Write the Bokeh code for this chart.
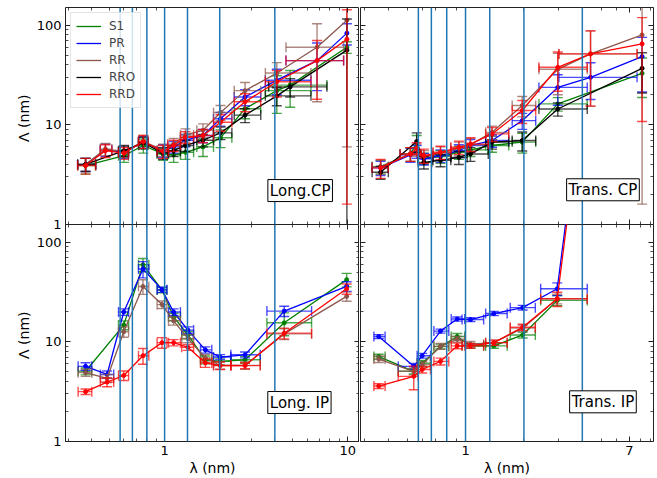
import math
from bokeh.plotting import figure
from bokeh.layouts import row, column
from bokeh.models import (Range1d, LogAxis, FixedTicker, PrintfTickFormatter, Span, Label,
                          Legend, LegendItem)
from bokeh.embed import file_html
from bokeh.resources import INLINE

FONT = "DejaVu Sans"
SERIES = ["S1", "PR", "RR", "RRO", "RRD"]
COLORS = {"S1": "#008000", "PR": "#0000ff", "RR": "#8c564b", "RRO": "#000000", "RRD": "#ff0000"}

# vertical reference lines (lambda, nm)
VLINES = [4 / 7, 2 / 3, 4 / 5, 1.0, 4 / 3, 2.0, 4.0]

# ---------------- Long. CP (top left) ----------------
LCP_X   = [0.37, 0.475, 0.60, 0.765, 0.98, 1.12, 1.30, 1.62, 2.02, 2.75, 4.1, 4.85, 6.8, 9.9]
LCP_XLO = [0.335, 0.445, 0.56, 0.72, 0.91, 1.04, 1.22, 1.50, 1.85, 2.40, 3.55, 3.7, 4.6, 9.9]
LCP_XHI = [0.42, 0.515, 0.635, 0.81, 1.05, 1.22, 1.44, 1.85, 2.33, 3.35, 6.3, 7.7, 9.5, 9.9]
LCP_Y = dict(
    S1=[3.9, None, 4.9, 6.2, 5.1, 5.0, 5.3, 6.0, 7.4, 14.5, 22, 25, None, 60],
    PR=[4.0, 5.6, 5.3, 6.7, 5.5, 6.0, 7.0, 7.8, 11.5, 19, 28, None, 44, 83],
    RR=[4.0, 5.7, 5.4, 6.8, 5.6, 6.4, 7.9, 8.8, 13.3, 22, 33, None, 60, 112],
    RRO=[4.0, None, 5.5, 6.6, 5.2, 5.5, 6.2, 7.0, 8.3, 12.5, 19.5, 24, None, 56],
    RRD=[3.9, 5.5, 5.2, 6.8, 5.4, 6.2, 7.5, 7.8, 10.6, 17, 27, None, 44, 72],
)
LCP_E = dict(
    S1=[0.7, None, 0.7, 1.0, 0.7, 0.8, 0.8, 1.2, 1.5, 3, 9, 10, None, 8],
    PR=[0.6, 0.8, 0.7, 0.9, 0.8, 0.8, 1.0, 1.2, 1.8, 3.5, 8, None, 22, 20],
    RR=[0.6, 0.8, 0.7, 1.0, 0.8, 0.9, 1.2, 1.4, 2.3, 4.5, 9, None, 43, 106],
    RRO=[0.6, None, 0.7, 0.9, 0.7, 0.7, 0.8, 1.0, 1.2, 2, 4, 5, None, 59],
    RRD=[0.7, 0.8, 0.7, 1.0, 0.8, 0.8, 1.0, 1.2, 2, 3.5, 8, None, 26, 70.4],
)

# ---------------- Trans. CP (top right) ----------------
TCP_X   = [0.365, 0.52, 0.56, 0.61, 0.743, 0.924, 1.06, 1.37, 1.96, 2.99, 4.41, 8.13]
TCP_XLO = [0.33, 0.46, 0.56, 0.57, 0.68, 0.84, 1.0, 1.27, 1.74, 2.39, 3.03, 8.13]
TCP_XHI = [0.40, 0.59, 0.56, 0.67, 0.84, 1.02, 1.31, 1.67, 2.3, 4.24, 7.66, 8.13]
TCP_Y = dict(
    S1=[3.8, 5.1, 6.5, 4.6, 4.8, 5.3, 5.6, 6.2, 6.7, 16.2, None, 32.8],
    PR=[3.7, 5.0, 5.4, 4.55, 4.9, 5.5, 6.2, 6.95, 11, 23.7, 29.9, 48.3],
    RR=[3.8, 5.1, 5.6, 4.8, 5.2, 5.8, 6.3, 8.4, 15.6, 36, 51.4, 79.6],
    RRO=[3.34, None, 6.8, 4.2, 4.4, 4.7, 5.1, 6.7, 6.95, 14.4, None, 36.8],
    RRD=[3.7, 5.1, 5.8, 4.9, 5.3, 5.95, 6.4, 8.1, 13.9, 37.7, 51.4, 64.8],
)
TCP_E = dict(
    S1=[0.6, 0.8, 1.3, 0.6, 0.7, 0.8, 0.8, 0.9, 1.5, 2.5, None, 14],
    PR=[0.6, 0.8, 0.8, 0.6, 0.7, 0.8, 0.9, 1.0, 2.0, 8, 12, 27],
    RR=[0.6, 0.8, 0.8, 0.7, 0.8, 0.9, 1.0, 1.3, 3.6, 16, 36, 78],
    RRO=[0.5, None, 1.5, 0.6, 0.6, 0.7, 0.8, 1.0, 1.5, 2.2, None, 16],
    RRD=[0.8, 0.8, 0.8, 0.8, 0.8, 0.9, 1.0, 1.3, 3.6, 16, 36, 54],
)

# ---------------- Long. IP (bottom left) ----------------
LIP_X   = [0.37, 0.485, 0.598, 0.762, 0.968, 1.12, 1.34, 1.67, 2.01, 2.75, 4.5, 9.87]
LIP_XLO = [0.337, 0.446, 0.56, 0.72, 0.91, 1.05, 1.24, 1.57, 1.85, 2.3, 3.62, 9.87]
LIP_XHI = [0.40, 0.527, 0.636, 0.82, 1.03, 1.22, 1.44, 1.81, 2.3, 3.33, 6.35, 9.87]
LIP_Y = dict(
    S1=[5.06, None, 14.7, 59.3, 33, 17.8, 11.7, 6.6, 6.36, 6.6, 15.5, 42],
    PR=[5.67, 4.7, 19.9, 53.7, 33.3, 19.9, 13.1, 8.3, 7.03, 7.4, 20.3, 36],
    RR=[4.9, 4.3, 12.6, 35.9, 23.6, 16.2, 10.8, 6.87, 5.8, 5.8, 12, 28.5],
    RRD=[3.16, 3.94, 4.59, 7.25, 9.8, 9.8, 8.8, 6.14, 5.77, 5.77, 12.2, 34],
)
LIP_E = dict(
    S1=[0.4, None, 1.5, 9, 2, 1.5, 1, 0.6, 0.5, 0.5, 4, 6.5],
    PR=[0.5, 0.4, 1.5, 10, 2, 1.5, 1, 0.6, 0.4, 0.5, 2.4, 4],
    RR=[0.4, 0.4, 1.5, 6, 2, 1.5, 1, 0.6, 0.5, 0.5, 1.5, 3],
    RRD=[0.2, 0.4, 0.5, 1.3, 1.2, 0.7, 0.6, 0.6, 0.5, 0.4, 1.5, 4],
)

# ---------------- Trans. IP (bottom right) ----------------
TIP_X   = [0.357, 0.541, 0.598, 0.743, 0.906, 1.06, 1.40, 1.97, 2.97, 4.4]
TIP_XLO = [0.337, 0.45, 0.563, 0.687, 0.844, 0.96, 1.27, 1.7, 2.44, 4.4]
TIP_XHI = [0.385, 0.57, 0.66, 0.82, 0.99, 1.24, 1.64, 2.29, 4.24, 4.4]
TIP_Y = dict(
    S1=[7.1, 5.06, 6.1, 8.97, 11.3, 9.1, 9.1, 11.7, 26, None],
    PR=[11.3, 5.67, 7.25, 12.8, 16.9, 16.7, 19.2, 22, 34, 13000],
    RR=[6.7, 5.06, 5.9, 9.0, 10.6, 9.45, 9.8, 13.7, 27, None],
    RRD=[3.6, 4.5, 5.27, 6.36, 9.1, 9.1, 9.8, 14.0, 27, 11500],
)
TIP_E = dict(
    S1=[0.4, 0.3, 0.4, 0.5, 0.8, 0.5, 0.5, 0.8, 3, None],
    PR=[0.5, 0.4, 0.4, 0.6, 0.8, 0.7, 0.9, 1.2, 5, 0],
    RR=[0.5, 0.4, 0.4, 0.6, 0.7, 0.6, 0.6, 1.0, 3, None],
    RRD=[0.2, 1.2, 0.4, 0.5, 0.6, 0.5, 0.6, 1.0, 4.4, 0],
)

Y_TICKS = [1, 10, 100]
Y_MINOR = [k * 10 ** d for d in range(0, 3) for k in range(2, 10)]
LX_TICKS = [1, 10]
RX_TICKS = [1, 7]
X_MINOR = [k * 10.0 ** d for d in (-1, 0, 1) for k in range(2, 10)]
RX_MINOR = [v for v in X_MINOR if v != 7]

LEFT_XR = (0.2875, 11.6)
RIGHT_XR = (0.2875, 9.31)
YR = (1, 150)


def make_axis(ticks, minor, show, label=None):
    ax = LogAxis(ticker=FixedTicker(ticks=ticks, minor_ticks=minor),
                 formatter=PrintfTickFormatter(format="%g"))
    ax.axis_line_color = None
    ax.major_tick_in = 5
    ax.major_tick_out = 0
    ax.minor_tick_in = 3
    ax.minor_tick_out = 0
    ax.major_tick_line_color = "#222222"
    ax.minor_tick_line_color = "#222222"
    ax.major_tick_line_width = 1
    ax.minor_tick_line_width = 0.8
    if show:
        ax.major_label_text_font = FONT
        ax.major_label_text_font_size = "13px"
        ax.major_label_text_color = "black"
        ax.major_label_standoff = 4
    else:
        ax.major_label_text_font_size = "0px"
        ax.major_label_text_color = None
        ax.major_label_text_alpha = 0
        ax.major_label_standoff = 0
    if label:
        ax.axis_label = label
        ax.axis_label_text_font = FONT
        ax.axis_label_text_font_size = "14px"
        ax.axis_label_text_font_style = "normal"
        ax.axis_label_text_color = "black"
        ax.axis_label_standoff = 2
    return ax


def make_fig(xr, width, height, mb, transparent=False):
    p = figure(width=width, height=height, x_axis_type="log", y_axis_type="log",
               x_range=Range1d(*xr), y_range=Range1d(*YR),
               x_axis_location=None, y_axis_location=None,
               output_backend="svg", toolbar_location=None,
               min_border_left=mb[0], min_border_right=mb[1],
               min_border_top=mb[2], min_border_bottom=mb[3])
    p.outline_line_color = "#222222"
    p.outline_line_width = 1
    p.background_fill_color = "white"
    for g in p.grid:
        g.visible = False
        g.grid_line_color = None
    if transparent:
        p.border_fill_alpha = 0
    return p


def draw_series(p, X, XLO, XHI, Y, E, color):
    xs, ys, vlo, vhi, cx, cy = [], [], [], [], [], []
    hx0, hx1, hy, hcx, hcy = [], [], [], [], []
    for i, y in enumerate(Y):
        if y is None:
            continue
        x = X[i]
        e = E[i]
        xs.append(x)
        ys.append(y)
        lo = y - e
        hi = y + e
        if e > 0:
            vhi.append(hi)
            cx.append(x)
            cy.append(hi)
            if lo > 0:
                vlo.append(lo)
                cx.append(x)
                cy.append(lo)
            else:
                vlo.append(1e-3)
        else:
            vlo.append(y)
            vhi.append(y)
        if XHI[i] > XLO[i]:
            hx0.append(XLO[i])
            hx1.append(XHI[i])
            hy.append(y)
            hcx += [XLO[i], XHI[i]]
            hcy += [y, y]
    kw = dict(line_color=color, line_width=1.4, line_alpha=0.7)
    p.segment(x0=xs, y0=vlo, x1=xs, y1=vhi, **kw)
    p.segment(x0=hx0, y0=hy, x1=hx1, y1=hy, **kw)
    p.scatter(x=cx, y=cy, marker="dash", size=10, **kw)
    p.scatter(x=hcx, y=hcy, marker="dash", angle=math.pi / 2, size=10, **kw)
    ln = p.line(x=xs, y=ys, line_color=color, line_width=1.3)
    p.scatter(x=xs, y=ys, size=4, fill_color=color, line_color=color)
    return ln


def populate(p, X, XLO, XHI, YD, ED, tag, tag_x, tag_y):
    lines = {}
    for s in SERIES:
        if s in YD:
            lines[s] = draw_series(p, X, XLO, XHI, YD[s], ED[s], COLORS[s])
    for v in VLINES:
        p.add_layout(Span(location=v, dimension="height", line_color="#1f77b4", line_width=1.5))
    p.add_layout(Label(x=tag_x, y=tag_y, text=tag, text_align="center", text_baseline="middle",
                       text_font=FONT, text_font_size="15px", text_color="black",
                       border_line_color="black", border_line_width=1,
                       background_fill_color="white", padding=2))
    return lines


# --- top left ---
tl = make_fig(LEFT_XR, 359, 232, (65, 0, 7, 8))
tl.add_layout(make_axis(Y_TICKS, Y_MINOR, True, "\u039b  (nm)"), "left")
tl.add_layout(make_axis(Y_TICKS, Y_MINOR, False), "right")
tl.add_layout(make_axis(LX_TICKS, X_MINOR, False), "below")
tl.add_layout(make_axis(LX_TICKS, X_MINOR, False), "above")
tl_lines = populate(tl, LCP_X, LCP_XLO, LCP_XHI, LCP_Y, LCP_E, "Long.CP", 5.5, 2.19)

items = []
for s in SERIES:
    cross = tl.scatter(x=[], y=[], marker="cross", size=12, line_color=COLORS[s], line_width=1.3)
    items.append(LegendItem(label=s, renderers=[tl_lines[s], cross]))
legend = Legend(items=items, location="top_left", margin=5, padding=5, spacing=1,
                glyph_width=25, glyph_height=16, label_height=16, label_standoff=8,
                label_text_font=FONT, label_text_font_size="12px",
                border_line_color="#cccccc", border_line_width=1,
                background_fill_color="white", background_fill_alpha=0.8)
tl.add_layout(legend)

# --- top right ---
tr = make_fig(RIGHT_XR, 298, 232, (1, 4, 7, 8))
tr.add_layout(make_axis(Y_TICKS, Y_MINOR, False), "left")
tr.add_layout(make_axis(Y_TICKS, Y_MINOR, False), "right")
tr.add_layout(make_axis(RX_TICKS, RX_MINOR, False), "below")
tr.add_layout(make_axis(RX_TICKS, RX_MINOR, False), "above")
populate(tr, TCP_X, TCP_XLO, TCP_XHI, TCP_Y, TCP_E, "Trans. CP", 5.11, 2.23)

# --- bottom left ---
bl = make_fig(LEFT_XR, 359, 254, (65, 0, 0, 35), transparent=True)
bl.add_layout(make_axis(Y_TICKS, Y_MINOR, True, "\u039b  (nm)"), "left")
bl.add_layout(make_axis(Y_TICKS, Y_MINOR, False), "right")
bl.add_layout(make_axis(LX_TICKS, X_MINOR, True, "\u03bb (nm)"), "below")
bl.add_layout(make_axis(LX_TICKS, X_MINOR, False), "above")
populate(bl, LIP_X, LIP_XLO, LIP_XHI, LIP_Y, LIP_E, "Long. IP", 5.45, 2.46)

# --- bottom right ---
br = make_fig(RIGHT_XR, 298, 254, (1, 4, 0, 35), transparent=True)
br.add_layout(make_axis(Y_TICKS, Y_MINOR, False), "left")
br.add_layout(make_axis(Y_TICKS, Y_MINOR, False), "right")
br.add_layout(make_axis(RX_TICKS, RX_MINOR, True, "\u03bb (nm)"), "below")
br.add_layout(make_axis(RX_TICKS, RX_MINOR, False), "above")
populate(br, TIP_X, TIP_XLO, TIP_XHI, TIP_Y, TIP_E, "Trans. IP", 5.11, 2.5)

layout = column(row(tl, tr), row(bl, br, margin=(-8, 0, 0, 0)))

open("out.html", "w").write(file_html(layout, INLINE))
